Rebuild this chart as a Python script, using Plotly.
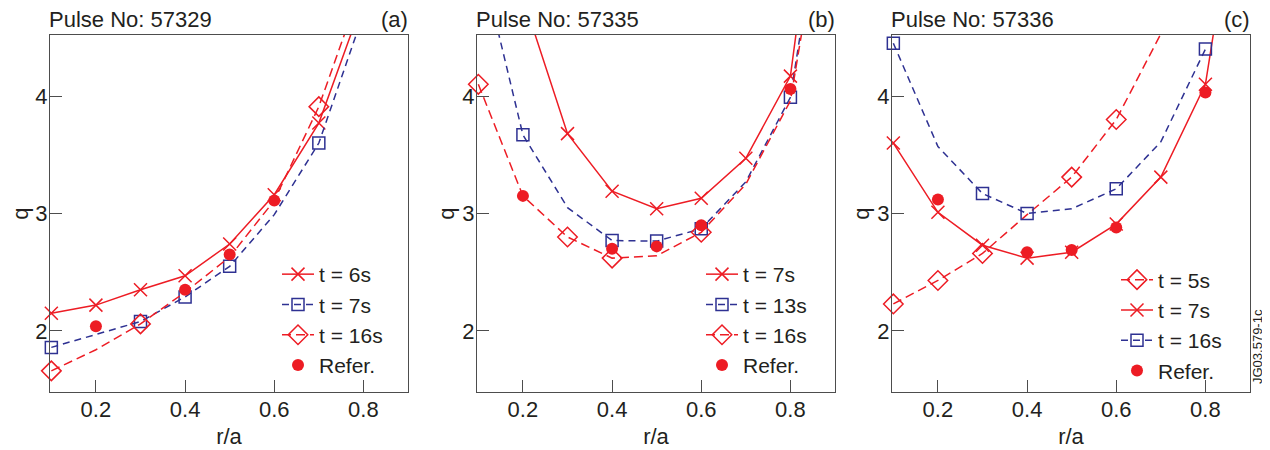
import plotly.graph_objects as go

# ---------------- data ----------------
# Panel (a) Pulse No: 57329
a_t6_r = [0.1, 0.2, 0.3, 0.4, 0.5, 0.6, 0.7, 0.8]
a_t6_q = [2.15, 2.22, 2.35, 2.47, 2.74, 3.16, 3.77, 4.82]
a_t6_nomark = []
a_t7_r = [0.1, 0.3, 0.4, 0.5, 0.6, 0.7, 0.8]
a_t7_q = [1.86, 2.08, 2.29, 2.55, 2.99, 3.60, 4.70]
a_t7_nomark = [0.6]
a_t16_r = [0.1, 0.2, 0.3, 0.4, 0.5, 0.6, 0.7, 0.8]
a_t16_q = [1.66, 1.84, 2.06, 2.33, 2.63, 3.11, 3.91, 4.98]
a_t16_nomark = [0.2, 0.4, 0.5, 0.6]
a_ref_r = [0.2, 0.4, 0.5, 0.6]
a_ref_q = [2.04, 2.35, 2.65, 3.11]

# Panel (b) Pulse No: 57335
b_t7_r = [0.2, 0.3, 0.4, 0.5, 0.6, 0.7, 0.8, 0.85]
b_t7_q = [4.84, 3.68, 3.19, 3.04, 3.13, 3.47, 4.17, 5.60]
b_t7_nomark = []
b_t13_r = [0.1, 0.2, 0.3, 0.4, 0.5, 0.6, 0.7, 0.8, 0.85]
b_t13_q = [5.25, 3.67, 3.05, 2.77, 2.765, 2.87, 3.27, 3.99, 5.20]
b_t13_nomark = [0.3, 0.7]
b_t16_r = [0.1, 0.2, 0.3, 0.4, 0.5, 0.6, 0.7, 0.8, 0.85]
b_t16_q = [4.10, 3.15, 2.80, 2.62, 2.64, 2.84, 3.25, 3.96, 5.10]
b_t16_nomark = [0.2, 0.5, 0.7, 0.8]
b_ref_r = [0.2, 0.4, 0.5, 0.6, 0.8]
b_ref_q = [3.15, 2.70, 2.72, 2.90, 4.06]

# Panel (c) Pulse No: 57336
c_t5_r = [0.1, 0.2, 0.3, 0.4, 0.5, 0.6, 0.7, 0.8]
c_t5_q = [2.23, 2.43, 2.66, 2.99, 3.31, 3.80, 4.53, 5.30]
c_t5_nomark = [0.4, 0.7]
c_t7_r = [0.1, 0.2, 0.3, 0.4, 0.5, 0.6, 0.7, 0.8, 0.85]
c_t7_q = [3.60, 3.01, 2.73, 2.62, 2.67, 2.91, 3.31, 4.10, 5.30]
c_t7_nomark = []
c_t16_r = [0.1, 0.2, 0.3, 0.4, 0.5, 0.6, 0.7, 0.8]
c_t16_q = [4.45, 3.57, 3.17, 3.00, 3.04, 3.21, 3.61, 4.40]
c_t16_nomark = [0.2, 0.5, 0.7]
c_ref_r = [0.2, 0.4, 0.5, 0.6, 0.8]
c_ref_q = [3.12, 2.67, 2.69, 2.88, 4.03]

pulse_labels = ["Pulse No: 57329", "Pulse No: 57335", "Pulse No: 57336"]
panel_tags = ["(a)", "(b)", "(c)"]
x_ticks = [0.2, 0.4, 0.6, 0.8]
y_ticks = [2, 3, 4]

# ---------------- styling ----------------
RED = "#ED1C24"
BLUE = "#2E3192"
CLEAR = "rgba(0,0,0,0)"
AXC = "#4d4d4d"
TXT = "#231f20"
FONT = "Liberation Sans, Arial, sans-serif"

STY = {
    "x": dict(color=RED, dash="solid", symbol="x-thin-open", size=13),
    "sq": dict(color=BLUE, dash="7px,5px", symbol="square-open", size=12),
    "di": dict(color=RED, dash="9px,5px", symbol="diamond-open", size=15),
}

fig = go.Figure()


def series(r, q, nomark, name, kind, n, legend):
    s = STY[kind]
    cols = [CLEAR if v in nomark else s["color"] for v in r]
    fig.add_trace(go.Scatter(
        x=r, y=q, name=name, mode="lines+markers",
        line=dict(color=s["color"], width=1.5, dash=s["dash"]),
        marker=dict(symbol=s["symbol"], size=s["size"], color=cols,
                    line=dict(width=1.5)),
        cliponaxis=False,
        xaxis="x" + ("" if n == 1 else str(n)),
        yaxis="y" + ("" if n == 1 else str(n)),
        legend=legend,
    ))


def refer(r, q, n, legend):
    fig.add_trace(go.Scatter(
        x=r, y=q, name="Refer.", mode="markers",
        marker=dict(symbol="circle", size=12, color=RED),
        cliponaxis=False,
        xaxis="x" + ("" if n == 1 else str(n)),
        yaxis="y" + ("" if n == 1 else str(n)),
        legend=legend,
    ))


series(a_t6_r, a_t6_q, a_t6_nomark, "t = 6s", "x", 1, "legend")
series(a_t7_r, a_t7_q, a_t7_nomark, "t = 7s", "sq", 1, "legend")
series(a_t16_r, a_t16_q, a_t16_nomark, "t = 16s", "di", 1, "legend")
refer(a_ref_r, a_ref_q, 1, "legend")

series(b_t7_r, b_t7_q, b_t7_nomark, "t = 7s", "x", 2, "legend2")
series(b_t13_r, b_t13_q, b_t13_nomark, "t = 13s", "sq", 2, "legend2")
series(b_t16_r, b_t16_q, b_t16_nomark, "t = 16s", "di", 2, "legend2")
refer(b_ref_r, b_ref_q, 2, "legend2")

series(c_t5_r, c_t5_q, c_t5_nomark, "t = 5s", "di", 3, "legend3")
series(c_t7_r, c_t7_q, c_t7_nomark, "t = 7s", "x", 3, "legend3")
series(c_t16_r, c_t16_q, c_t16_nomark, "t = 16s", "sq", 3, "legend3")
refer(c_ref_r, c_ref_q, 3, "legend3")

# ---------------- layout ----------------
# the page body has an 8px margin, so the figure is sized to fit the window
W, H = 1262, 442
ML, MR, MT, MB = 42, 20, 27, 58
PW = W - ML - MR
PH = H - MT - MB
PX0, PY0 = 50, 35  # page position of plot-area top-left
panel_px = [(50, 408), (477, 835), (892, 1250)]
domains = [[(a - PX0) / PW, (b - PX0) / PW] for a, b in panel_px]

axis_common = dict(
    showline=True, linecolor=AXC, linewidth=1, mirror=True,
    ticks="inside", ticklen=12, tickwidth=1, tickcolor=AXC,
    showgrid=False, zeroline=False, automargin=False,
    tickfont=dict(size=22, color=TXT, family=FONT),
)

layout = dict(
    width=W, height=H,
    margin=dict(l=ML, r=MR, t=MT, b=MB, autoexpand=False),
    paper_bgcolor="white", plot_bgcolor="white",
    font=dict(family=FONT, size=22, color=TXT),
    annotations=[],
)

leg_x = [277, 701, 1116]
leg_y = [320, 320, 325.5]
for i in range(3):
    sfx = "" if i == 0 else str(i + 1)
    layout["xaxis" + sfx] = dict(
        axis_common, domain=domains[i], range=[0.097, 0.9],
        tickvals=x_ticks, tickformat=".1f", anchor="y" + sfx,
        ticklabelstandoff=-2,
        title=dict(text="r/a", font=dict(size=22, color=TXT, family=FONT), standoff=7),
    )
    layout["yaxis" + sfx] = dict(
        axis_common, domain=[0, 1], range=[1.48, 4.52],
        tickvals=y_ticks, anchor="x" + sfx, ticklabelstandoff=-3,
        title=dict(text="q", font=dict(size=22, color=TXT, family=FONT), standoff=1),
    )
    lname = "legend" + sfx
    layout[lname] = dict(
        x=(leg_x[i] - PX0) / PW, xanchor="left",
        y=1 - (leg_y[i] - PY0) / PH, yanchor="middle",
        bgcolor="rgba(0,0,0,0)", borderwidth=0,
        font=dict(size=21, color=TXT, family=FONT),
        itemwidth=32, tracegroupgap=0,
    )
    layout["annotations"].append(dict(
        text=pulse_labels[i], xref="x" + sfx + " domain", yref="paper",
        x=0, y=1, xanchor="left", yanchor="bottom", yshift=1, xshift=-3,
        showarrow=False, font=dict(size=22, color=TXT, family=FONT),
    ))
    layout["annotations"].append(dict(
        text=panel_tags[i], xref="x" + sfx + " domain", yref="paper",
        x=1, y=1, xanchor="right", yanchor="bottom", yshift=1, xshift=2,
        showarrow=False, font=dict(size=22, color=TXT, family=FONT),
    ))

layout["annotations"].append(dict(
    text="JG03.579-1c", xref="paper", yref="paper",
    x=(1257 - PX0) / PW, y=1 - (347 - PY0) / PH,
    xanchor="center", yanchor="middle", textangle=-90,
    showarrow=False, font=dict(size=13, color=TXT, family=FONT),
))

fig.update_layout(**layout)
fig.write_html("out.html")
